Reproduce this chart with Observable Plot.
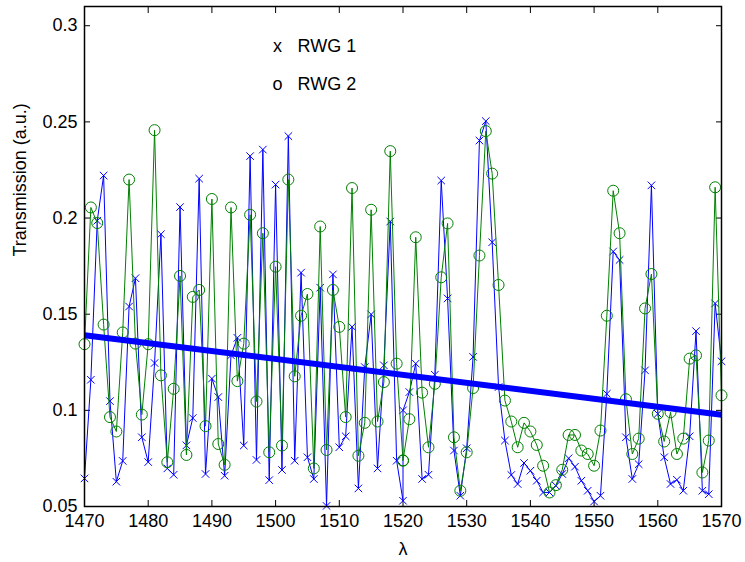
<!DOCTYPE html>
<html><head><meta charset="utf-8">
<script src="https://cdn.jsdelivr.net/npm/d3@7"></script>
<script src="https://cdn.jsdelivr.net/npm/@observablehq/plot@0.6"></script>
<style>body{margin:0;background:#fff}#chart{width:745px;height:562px}</style>
</head><body><div id="chart"></div>
<script>
const wavelength = [1470,1471,1472,1473,1474,1475,1476,1477,1478,1479,1480,1481,1482,1483,1484,1485,1486,1487,1488,1489,1490,1491,1492,1493,1494,1495,1496,1497,1498,1499,1500,1501,1502,1503,1504,1505,1506,1507,1508,1509,1510,1511,1512,1513,1514,1515,1516,1517,1518,1519,1520,1520,1521,1522,1523,1524,1525,1526,1527,1528,1529,1530,1531,1532,1533,1534,1535,1536,1537,1538,1539,1540,1541,1542,1543,1544,1545,1546,1547,1548,1549,1550,1551,1552,1553,1554,1555,1556,1557,1558,1559,1560,1561,1562,1563,1564,1565,1566,1567,1568,1569,1570];
const rwg1 = [0.0646,0.1159,0.1986,0.2221,0.1048,0.0629,0.0737,0.1540,0.1687,0.0860,0.0731,0.1246,0.1916,0.0698,0.0665,0.2057,0.0818,0.0960,0.2205,0.0669,0.1165,0.1069,0.0660,0.1286,0.1377,0.0817,0.2322,0.0742,0.2356,0.0637,0.2174,0.0690,0.2426,0.0738,0.1716,0.0756,0.0643,0.1638,0.0503,0.1707,0.0808,0.0865,0.1434,0.0594,0.1225,0.1499,0.0698,0.1234,0.1982,0.0738,0.0530,0.1000,0.1095,0.1243,0.0643,0.0665,0.1185,0.2195,0.1582,0.0791,0.0556,0.0803,0.1278,0.2403,0.2504,0.1874,0.1121,0.0843,0.0664,0.0617,0.0726,0.0686,0.0634,0.0573,0.0573,0.0608,0.0669,0.0751,0.0707,0.0634,0.0582,0.0526,0.0556,0.1086,0.1826,0.1782,0.0860,0.0643,0.0720,0.1208,0.2170,0.0982,0.0756,0.0617,0.0639,0.0582,0.0865,0.1412,0.0582,0.0564,0.1556,0.1255];
const rwg2 = [0.1344,0.2055,0.1974,0.1446,0.0965,0.0890,0.1405,0.2200,0.1347,0.0978,0.1344,0.2457,0.1182,0.0730,0.1112,0.1699,0.0768,0.1590,0.1626,0.0918,0.2099,0.0825,0.0717,0.2055,0.1152,0.1347,0.2017,0.1046,0.1921,0.0782,0.1747,0.0817,0.2200,0.1177,0.1492,0.1605,0.0698,0.1956,0.0794,0.1626,0.1434,0.0965,0.2156,0.0764,0.0935,0.2043,0.0942,0.1147,0.2348,0.1243,0.0738,0.0740,0.0954,0.1900,0.1092,0.0808,0.1138,0.1692,0.1972,0.0860,0.0582,0.0782,0.1116,0.1805,0.2452,0.2231,0.1652,0.1051,0.0942,0.0808,0.0935,0.0890,0.0820,0.0712,0.0573,0.0611,0.0691,0.0872,0.0872,0.0791,0.0773,0.0712,0.0895,0.1492,0.2142,0.1921,0.1058,0.0773,0.0853,0.1530,0.1709,0.0982,0.0838,0.0990,0.0773,0.0853,0.1269,0.1286,0.0677,0.0843,0.2160,0.1078];
const fitX = [1470, 1570];
const fitY = [0.1391, 0.0977];
const xTicks = [1470,1480,1490,1500,1510,1520,1530,1540,1550,1560,1570];
const yTicks = [0.05,0.1,0.15,0.2,0.25,0.3];
const legendSymbols = ["x", "o"];
const legendLabels = ["RWG 1", "RWG 2"];
const xLabel = "λ";
const yLabel = "Transmission (a.u.)";

const d1 = wavelength.map((w, i) => ({w, t: rwg1[i]}));
const d2 = wavelength.map((w, i) => ({w, t: rwg2[i]}));
const fit = fitX.map((w, i) => ({w, t: fitY[i]}));

const font = "'Liberation Sans', Arial, Helvetica, sans-serif";
const blue = "#0000ff", green = "#008000";
const fmtY = d => String(+d.toFixed(2));
const fs = 18;

const chart = Plot.plot({
  width: 745, height: 562,
  marginLeft: 84, marginRight: 24, marginTop: 6, marginBottom: 56,
  style: {fontFamily: font, fontSize: fs + "px", color: "black", background: "white"},
  x: {domain: [1470, 1570]},
  y: {domain: [0.05, 0.31]},
  marks: [
    Plot.axisX(xTicks, {anchor: "bottom", tickSize: 0, tickPadding: 8, tickFormat: d => String(d), label: null, fontSize: fs}),
    Plot.axisX(xTicks, {anchor: "bottom", tickSize: 6, dy: -6, tickFormat: () => "", label: null}),
    Plot.axisX(xTicks, {anchor: "top", tickSize: 6, dy: 6, tickFormat: () => "", label: null}),
    Plot.axisY(yTicks, {anchor: "left", tickSize: 0, tickPadding: 7, tickFormat: fmtY, label: null, fontSize: fs}),
    Plot.axisY(yTicks, {anchor: "left", tickSize: 6, dx: 6, tickFormat: () => "", label: null}),
    Plot.axisY(yTicks, {anchor: "right", tickSize: 6, dx: -6, tickFormat: () => "", label: null}),
    Plot.line(d1, {x: "w", y: "t", stroke: blue, strokeWidth: 1}),
    Plot.dot(d1, {x: "w", y: "t", symbol: "times", r: 3.5, stroke: blue, strokeWidth: 1}),
    Plot.line(d2, {x: "w", y: "t", stroke: green, strokeWidth: 1}),
    Plot.dot(d2, {x: "w", y: "t", symbol: "circle", r: 5.5, stroke: green, fill: "none", strokeWidth: 1}),
    Plot.line(fit, {x: "w", y: "t", stroke: blue, strokeWidth: 6, strokeLinecap: "butt"}),
    Plot.frame({stroke: "black", strokeWidth: 1.5}),
    Plot.text([legendSymbols[0]], {frameAnchor: "top-left", dx: 193, dy: 40, lineAnchor: "middle", textAnchor: "middle", fontSize: fs}),
    Plot.text([legendLabels[0]], {frameAnchor: "top-left", dx: 213, dy: 40, lineAnchor: "middle", textAnchor: "start", fontSize: fs}),
    Plot.text([legendSymbols[1]], {frameAnchor: "top-left", dx: 193, dy: 78, lineAnchor: "middle", textAnchor: "middle", fontSize: fs}),
    Plot.text([legendLabels[1]], {frameAnchor: "top-left", dx: 213, dy: 78, lineAnchor: "middle", textAnchor: "start", fontSize: fs}),
    Plot.text([yLabel], {frameAnchor: "left", rotate: -90, dx: -64, fontSize: fs}),
    Plot.text([xLabel], {frameAnchor: "bottom", dy: 43, lineAnchor: "middle", fontSize: fs})
  ]
});
document.getElementById("chart").append(chart);
</script>
</body></html>
